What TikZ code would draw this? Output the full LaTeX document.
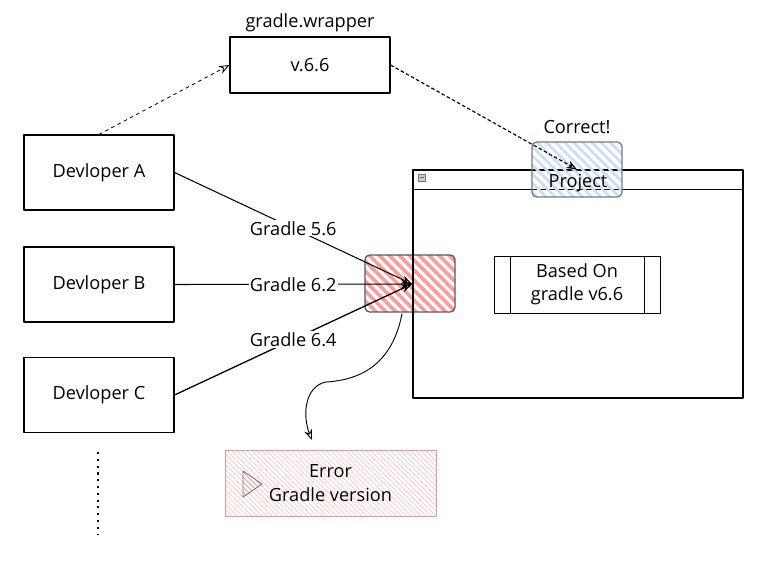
\documentclass[tikz,border=0pt]{standalone}
\usepackage{fontspec}
\setmainfont{Open Sans}
\usetikzlibrary{arrows.meta,patterns.meta,calc}

\definecolor{hatchred}{HTML}{FF9A9A}
\definecolor{hatchblue}{HTML}{C9DDF3}
\definecolor{hatchpink}{HTML}{FFC4C4}
\definecolor{prjline}{HTML}{6E7E90}
\definecolor{errline}{HTML}{E09A9A}

\tikzset{
  txt/.style={font=\fontsize{15.5}{20}\selectfont},
  devbox/.style={txt,draw,line width=0.9pt,minimum width=4.5cm,minimum height=2.25cm},
  wrapbox/.style={txt,draw,line width=0.9pt,minimum width=4.8cm,minimum height=1.68cm},
  winbox/.style={draw,line width=0.9pt,minimum width=9.9cm,minimum height=6.84cm},
  basedbox/.style={txt,draw,line width=0.7pt,align=center,minimum width=4.98cm,minimum height=1.71cm},
  redbox/.style={draw=black!65,line width=1.1pt,rounded corners=4pt,minimum width=2.7cm,minimum height=1.71cm,
    pattern={Lines[angle=-45,distance=6pt,line width=3pt]},pattern color=hatchred},
  prjbox/.style={draw=prjline,line width=1.1pt,rounded corners=4pt,minimum width=2.7cm,minimum height=1.65cm,
    pattern={Lines[angle=-45,distance=5.5pt,line width=2.2pt]},pattern color=hatchblue},
  errbox/.style={txt,draw=errline,line width=0.6pt,align=center,minimum width=6.33cm,minimum height=1.98cm,
    pattern={Lines[angle=-45,distance=3pt,line width=0.6pt]},pattern color=hatchpink},
  lbl/.style={txt,fill=white,inner sep=1pt},
  tip/.style={-{Stealth[open,length=9pt,width=7pt]}},
}

\begin{document}
\begin{tikzpicture}[x=0.03cm,y=-0.03cm,line join=round]
  \useasboundingbox (0,0) rectangle (768,562);
  % developers
  \node[devbox] (devA) at (99,172.5) {Devloper A};
  \node[devbox] (devB) at (99,284.5) {Devloper B};
  \node[devbox] (devC) at (99,395) {Devloper C};
  \coordinate (moretop) at (98,452);
  \coordinate (morebot) at (98,535);
  \draw[line width=1.8pt,dash pattern=on 1.8pt off 4pt] (moretop) -- (morebot);

  % gradle wrapper
  \node[wrapbox] (wrap) at (310,65) {v.6.6};
  \node[txt,above=0pt] (wraptitle) at (wrap.north) {gradle.wrapper};

  % conflict box
  \node[redbox] (clash) at (410,283.5) {};
  \coordinate (hit) at (412,284);

  % project window
  \node[winbox] (win) at (578,284) {};
  \draw[line width=0.9pt] ($(win.north west)+(0,20)$) -- ($(win.north east)+(0,20)$);
  \draw[black!55,fill=black!20,line width=0.4pt] (418,174) rectangle (425,181);
  \draw[black!60,line width=0.5pt] (419.5,177.5) -- (423.5,177.5);
  \node[basedbox] (based) at (577,284.5) {Based On\\gradle v6.6};
  \draw[line width=0.7pt] ($(based.north west)+(17,0)$) -- ($(based.south west)+(17,0)$);
  \draw[line width=0.7pt] ($(based.north east)+(-16,0)$) -- ($(based.south east)+(-16,0)$);

  % project box
  \node[prjbox] (prj) at (577,169.5) {};
  \node[txt,inner sep=0pt] (prjtxt) at (578,183) {Project};
  \node[txt,above=2pt] (correct) at (prj.north) {Correct!};

  % error box
  \node[errbox] (err) at (330.5,483) {Error\\Gradle version};
  \draw[black!55,line width=0.7pt,pattern={Lines[angle=-45,distance=3pt,line width=0.7pt]},pattern color=hatchred]
    (243,471) -- (262,484) -- (243,497) -- cycle;
  \coordinate (errtip) at (312,440);

  % connectors
  \draw[tip,dashed,line width=0.7pt] (devA.north) -- (wrap.west);
  \draw[tip,densely dashed,line width=1pt] (wrap.east) -- (prj.center);
  \draw[tip,line width=0.9pt] (devA.east) -- node[lbl] (lblA) {Gradle 5.6} (hit);
  \draw[tip,line width=0.9pt] (devB.east) -- node[lbl] (lblB) {Gradle 6.2} (hit);
  \draw[tip,line width=1.1pt] (devC.east) -- node[lbl] (lblC) {Gradle 6.4} (hit);
  \draw[tip,line width=0.8pt] ($(clash.south)+(-8,0)$) .. controls (392,365) and (360,380) .. (326,382)
    .. controls (305,386) and (302,415) .. (errtip);
\end{tikzpicture}
\end{document}
